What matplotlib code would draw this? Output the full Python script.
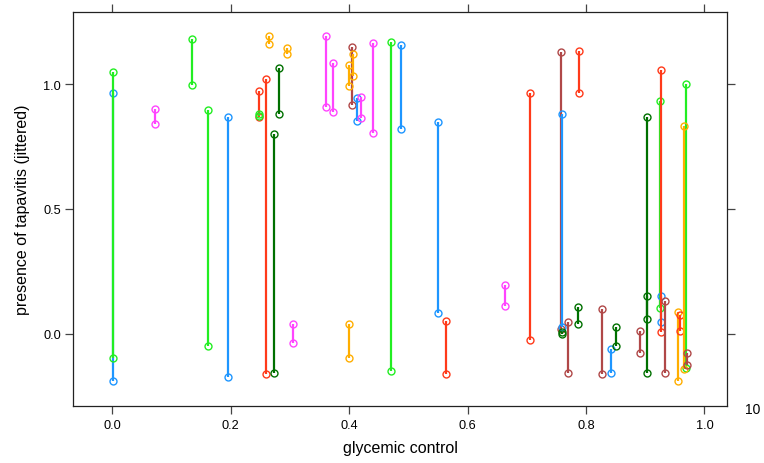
import numpy as np
import matplotlib
matplotlib.use('Agg')
import matplotlib.pyplot as plt

plt.rcParams['font.family'] = ['Liberation Sans', 'DejaVu Sans']

# glycemic control, jittered tapavitis at start and end, group
seg_x = [0.002, 0.002, 0.073, 0.135, 0.162, 0.195, 0.248, 0.248, 0.259, 0.265,
         0.282, 0.274, 0.296, 0.306, 0.361, 0.373, 0.405, 0.400, 0.407, 0.413,
         0.420, 0.440, 0.470, 0.487, 0.550, 0.400, 0.563, 0.664, 0.705, 0.757,
         0.759, 0.760, 0.769, 0.788, 0.787, 0.827, 0.843, 0.851, 0.891, 0.903,
         0.903, 0.925, 0.926, 0.927, 0.934, 0.955, 0.958, 0.968, 0.966, 0.970]
y_start = [0.964, 1.050, 0.899, 1.179, 0.896, 0.868, 0.971, 0.879, 1.020, 1.191,
           1.063, 0.800, 1.143, 0.039, 1.193, 1.083, 1.147, 1.077, 1.120, 0.944,
           0.947, 1.163, 1.169, 1.156, 0.849, 0.037, 0.049, 0.193, 0.963, 1.129,
           0.880, 0.008, 0.047, 1.131, 0.107, 0.097, -0.060, 0.027, 0.011, 0.869,
           0.152, 0.932, 0.151, 1.055, 0.131, 0.087, 0.073, 0.999, 0.831, -0.077]
y_end = [-0.190, -0.096, 0.839, 0.995, -0.049, -0.172, 0.869, 0.872, -0.160, 1.161,
         0.879, -0.156, 1.121, -0.037, 0.907, 0.887, 0.916, 0.993, 1.031, 0.851,
         0.865, 0.804, -0.151, 0.819, 0.084, -0.097, -0.160, 0.111, -0.027, 0.017,
         0.028, 0.000, -0.156, 0.964, 0.040, -0.160, -0.157, -0.049, -0.077, -0.157,
         0.057, 0.103, 0.047, 0.008, -0.159, -0.189, 0.011, -0.136, -0.140, -0.124]
group = ['blue', 'green', 'magenta', 'green', 'green', 'blue', 'red', 'green', 'red', 'orange',
         'dkgreen', 'dkgreen', 'orange', 'magenta', 'magenta', 'magenta', 'brown', 'orange', 'orange', 'blue',
         'magenta', 'magenta', 'green', 'blue', 'blue', 'orange', 'red', 'magenta', 'red', 'brown',
         'blue', 'dkgreen', 'brown', 'red', 'dkgreen', 'brown', 'blue', 'dkgreen', 'brown', 'dkgreen',
         'dkgreen', 'green', 'blue', 'red', 'brown', 'orange', 'red', 'green', 'orange', 'brown']

colours = {'green': '#22EE22', 'blue': '#1E96FF', 'magenta': '#FF44FF',
           'red': '#FF3A1A', 'orange': '#FFAE00', 'dkgreen': '#007000',
           'brown': '#B04848'}

fig = plt.figure(figsize=(7.64, 4.64), dpi=100)
ax = fig.add_axes([73 / 764, 1 - 407 / 464, 654 / 764, 394 / 464])

for x, y1, y2, g in zip(seg_x, y_start, y_end, group):
    c = colours[g]
    ax.plot([x, x], [y1, y2], color=c, lw=1.6, marker='o', ms=5,
            mfc='none', mec=c, mew=1.0, solid_capstyle='butt')

ax.set_xlim(-0.066, 1.038)
ax.set_ylim(-0.29, 1.289)
ax.set_xticks([0.0, 0.2, 0.4, 0.6, 0.8, 1.0])
ax.set_yticks([0.0, 0.5, 1.0])
ax.set_xticklabels(['0.0', '0.2', '0.4', '0.6', '0.8', '1.0'])
ax.set_yticklabels(['0.0', '0.5', '1.0'])
ax.tick_params(direction='out', length=5.5, width=0.9, colors='#444444',
               labelcolor='black', labelsize=9.2,
               top=True, right=True, labeltop=False, labelright=False)
ax.tick_params(axis='x', pad=4)
ax.tick_params(axis='y', pad=3)
for s in ax.spines.values():
    s.set_linewidth(0.9)
    s.set_color('#222222')

ax.set_xlabel('glycemic control', fontsize=11.5, labelpad=6)
ax.set_ylabel('presence of tapavitis (jittered)', fontsize=11.5, labelpad=10)

fig.text(753 / 764, 1 - 410 / 464, '10', ha='center', va='center', fontsize=10)

fig.savefig('out.png', dpi=100)
